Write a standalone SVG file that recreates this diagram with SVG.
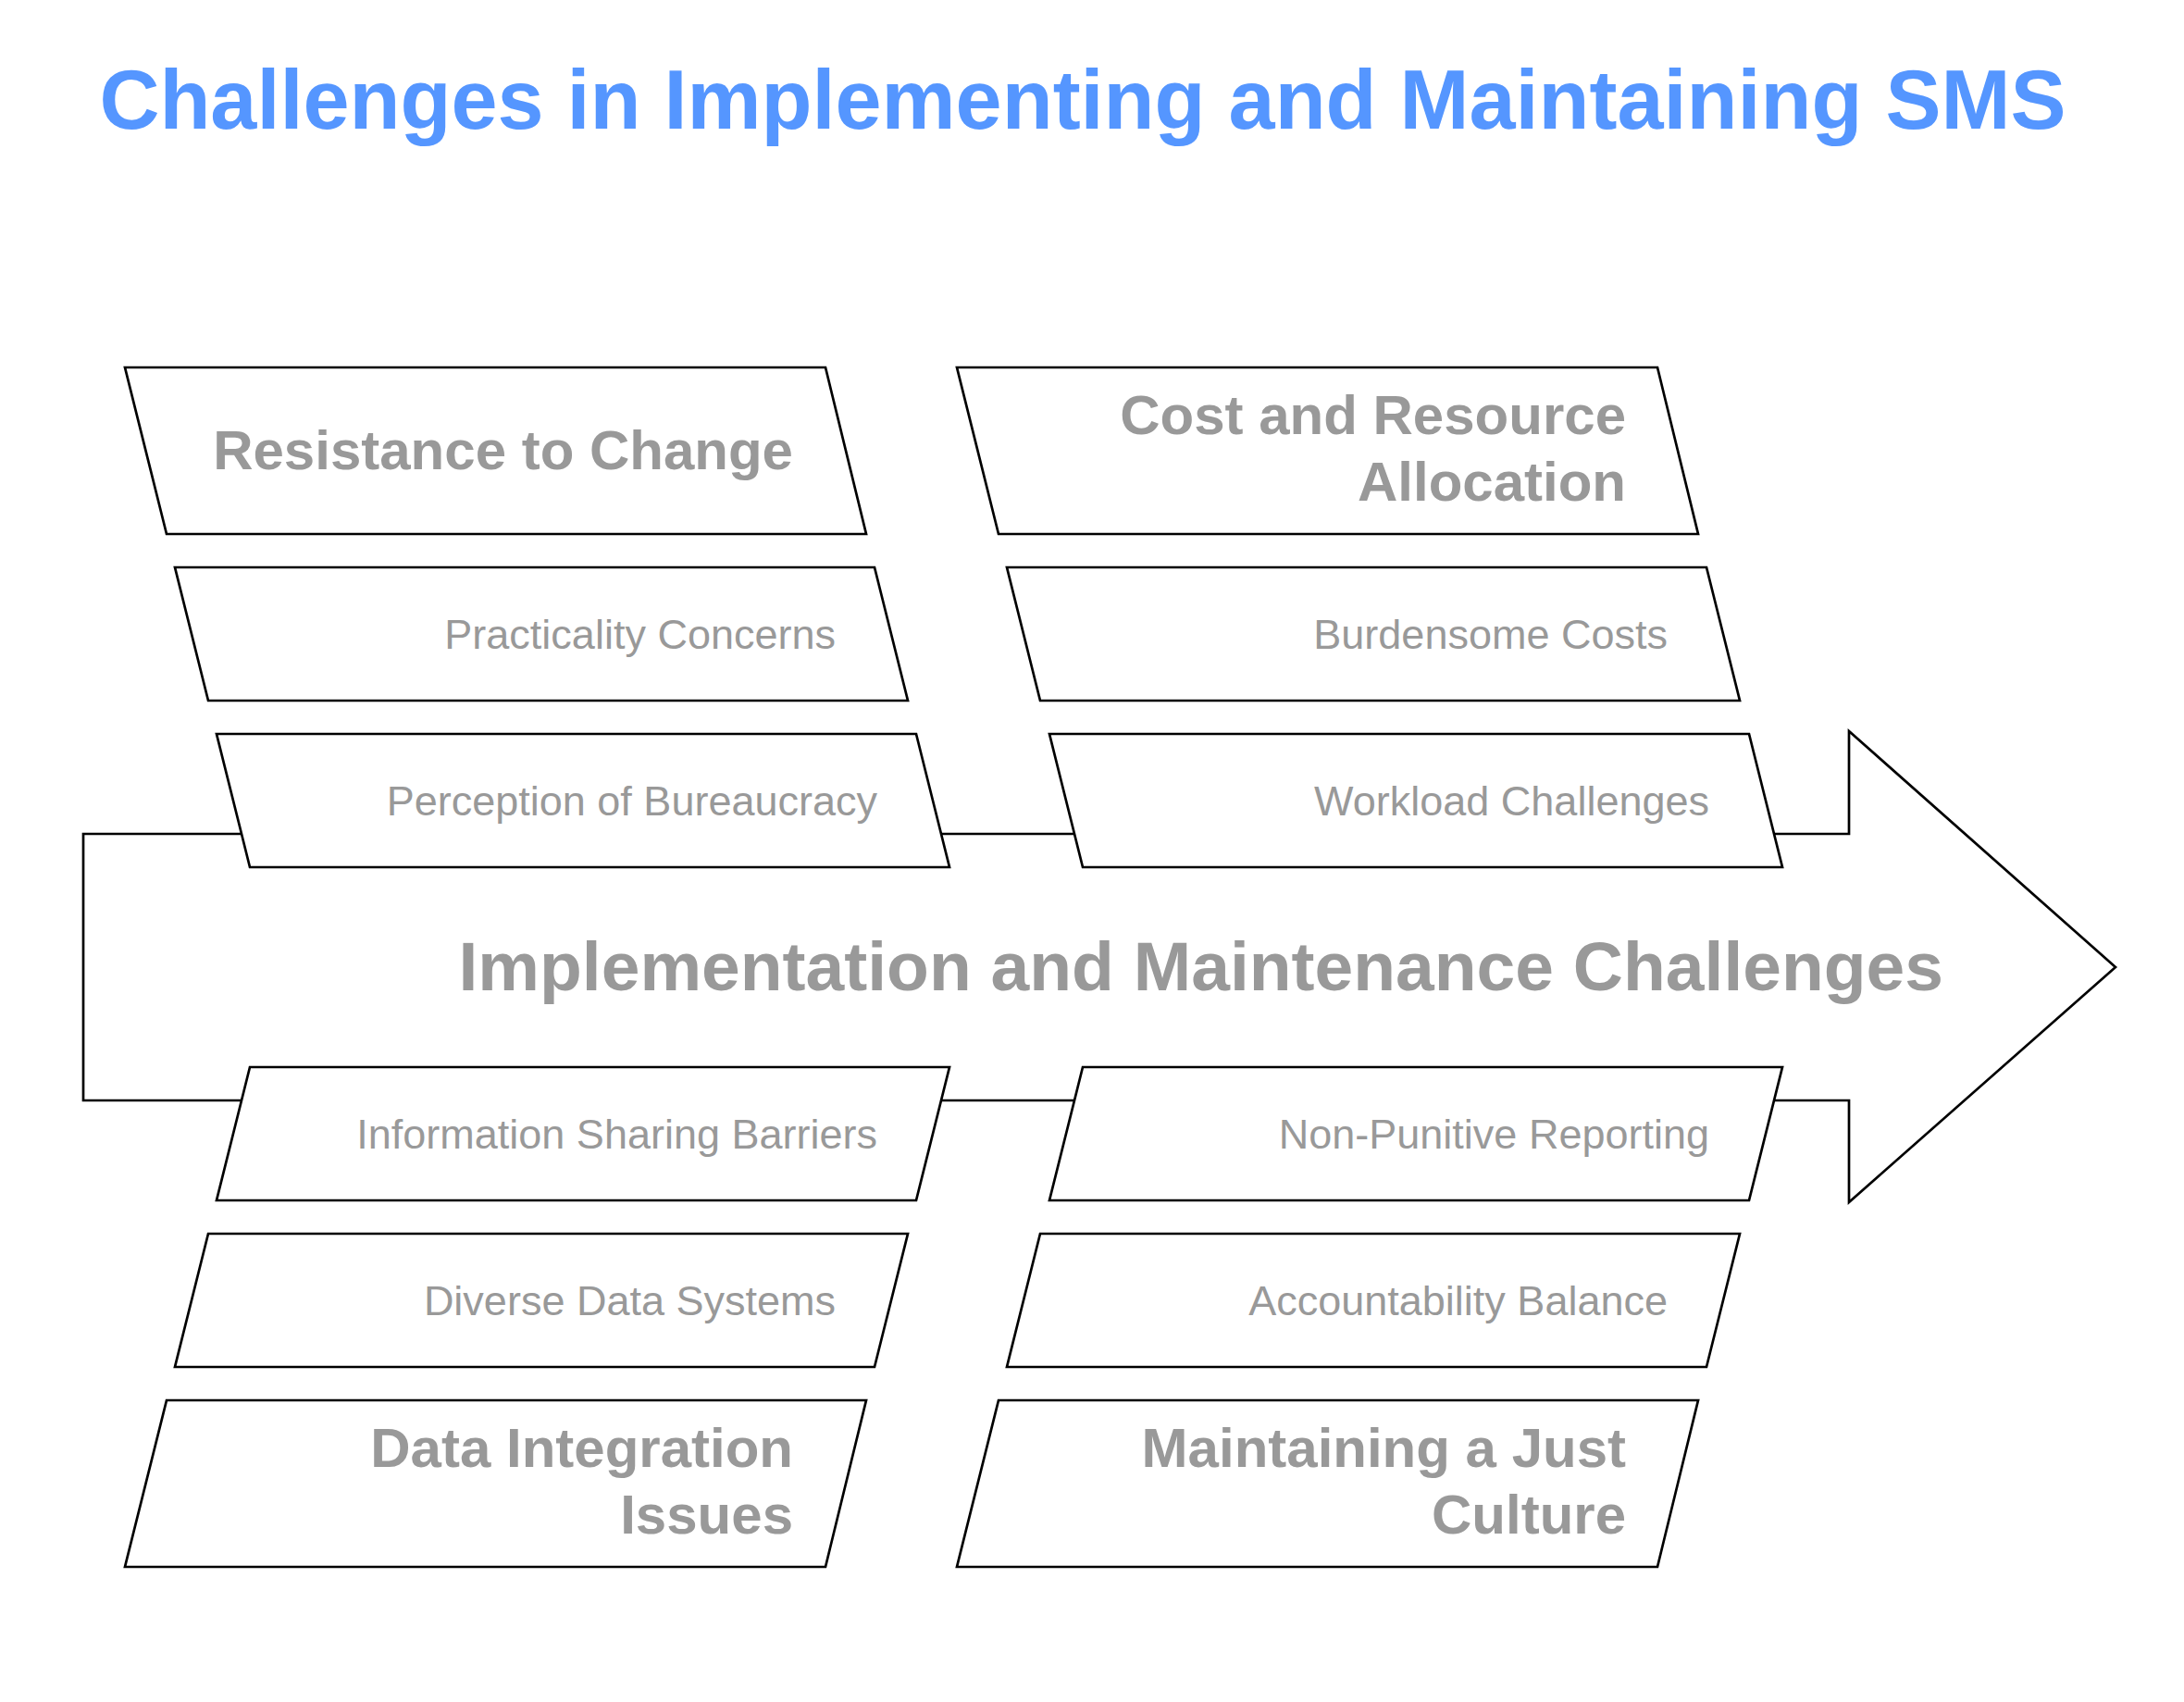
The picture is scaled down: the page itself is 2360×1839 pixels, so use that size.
<svg xmlns="http://www.w3.org/2000/svg" width="2360" height="1839" viewBox="0 0 2360 1839">
<style>
.shape{fill:#ffffff;stroke:#000000;stroke-width:2.7;stroke-linejoin:miter}
.title{font-family:"Liberation Sans",Arial,sans-serif;font-weight:bold;font-size:90px;fill:#5596ff}
.main{font-family:"Liberation Sans",Arial,sans-serif;font-weight:bold;font-size:75px;fill:#999999}
.head{font-family:"Liberation Sans",Arial,sans-serif;font-weight:bold;font-size:60px;fill:#999999;text-anchor:end}
.sub{font-family:"Liberation Sans",Arial,sans-serif;font-size:45px;fill:#999999;text-anchor:end}
</style>
<rect width="2360" height="1839" fill="#ffffff"/>
<text class="title" x="1170" y="139" text-anchor="middle">Challenges in Implementing and Maintaining SMS</text>
<g id="connectors">
<polygon id="spine" class="shape" points="90,901 1998,901 1998,790 2286,1045 1998,1299 1998,1189 90,1189"/>
</g>
<g id="spine-label">
<text class="main" x="2100" y="1070" text-anchor="end">Implementation and Maintenance Challenges</text>
</g>
<g id="resistance">
<polygon class="shape" points="135,397 892,397 936,577 180,577"/>
<text class="head" x="857" y="507">Resistance to Change</text>
</g>
<g id="practicality">
<polygon class="shape" points="189,613 945,613 981,757 225,757"/>
<text class="sub" x="903" y="701">Practicality Concerns</text>
</g>
<g id="bureaucracy">
<polygon class="shape" points="234,793 990,793 1026,937 270,937"/>
<text class="sub" x="948" y="881">Perception of Bureaucracy</text>
</g>
<g id="cost">
<polygon class="shape" points="1034,397 1791,397 1835,577 1079,577"/>
<text class="head" x="1757" y="469">Cost and Resource</text>
<text class="head" x="1757" y="541">Allocation</text>
</g>
<g id="burdensome">
<polygon class="shape" points="1088,613 1844,613 1880,757 1124,757"/>
<text class="sub" x="1802" y="701">Burdensome Costs</text>
</g>
<g id="workload">
<polygon class="shape" points="1134,793 1890,793 1926,937 1170,937"/>
<text class="sub" x="1847" y="881">Workload Challenges</text>
</g>
<g id="information">
<polygon class="shape" points="270,1153 1026,1153 990,1297 234,1297"/>
<text class="sub" x="948" y="1241">Information Sharing Barriers</text>
</g>
<g id="diverse">
<polygon class="shape" points="225,1333 981,1333 945,1477 189,1477"/>
<text class="sub" x="903" y="1421">Diverse Data Systems</text>
</g>
<g id="data-integration">
<polygon class="shape" points="180,1513 936,1513 892,1693 135,1693"/>
<text class="head" x="857" y="1585">Data Integration</text>
<text class="head" x="857" y="1657">Issues</text>
</g>
<g id="non-punitive">
<polygon class="shape" points="1170,1153 1926,1153 1890,1297 1134,1297"/>
<text class="sub" x="1847" y="1241">Non-Punitive Reporting</text>
</g>
<g id="accountability">
<polygon class="shape" points="1124,1333 1880,1333 1844,1477 1088,1477"/>
<text class="sub" x="1802" y="1421">Accountability Balance</text>
</g>
<g id="just-culture">
<polygon class="shape" points="1079,1513 1835,1513 1791,1693 1034,1693"/>
<text class="head" x="1757" y="1585">Maintaining a Just</text>
<text class="head" x="1757" y="1657">Culture</text>
</g>
</svg>
